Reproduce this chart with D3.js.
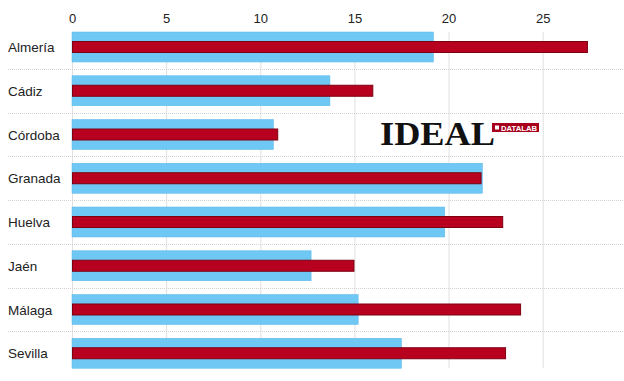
<!DOCTYPE html>
<html>
<head>
<meta charset="utf-8">
<script src="https://cdn.jsdelivr.net/npm/d3@7"></script>
<style>
  body { margin: 0; background: #fff; }
  text { font-family: "Liberation Sans", Arial, sans-serif; }
</style>
</head>
<body>
<div id="chart"></div>
<script>
const provincias = ['Almería', 'Cádiz', 'Córdoba', 'Granada', 'Huelva', 'Jaén', 'Málaga', 'Sevilla'];
const serieAzul = [19.2, 13.7, 10.7, 21.8, 19.8, 12.7, 15.2, 17.5];
const serieRoja = [27.35, 15.95, 10.9, 21.7, 22.85, 14.95, 23.8, 23.0];
const ticks = [0, 5, 10, 15, 20, 25];

const width = 624;
const height = 381;

const svg = d3.select('#chart')
  .append('svg')
  .attr('width', width)
  .attr('height', height);

const x = d3.scaleLinear().domain([0, 29]).range([72, 618]);
const y = d3.scalePoint().domain(provincias).range([47, 353.25]);
const step = y.step();

// vertical grid
svg.append('g')
  .selectAll('line')
  .data(ticks)
  .join('line')
  .attr('x1', (d) => x(d) + 0.5)
  .attr('x2', (d) => x(d) + 0.5)
  .attr('y1', 32)
  .attr('y2', 368)
  .attr('stroke', '#e0e0e0')
  .attr('stroke-width', 1);

// dotted separators between rows
svg.append('g')
  .selectAll('line')
  .data(provincias.slice(0, -1))
  .join('line')
  .attr('x1', 8)
  .attr('x2', width)
  .attr('y1', (d) => Math.round(y(d) + step / 2) + 0.5)
  .attr('y2', (d) => Math.round(y(d) + step / 2) + 0.5)
  .attr('stroke', '#d2d2d2')
  .attr('stroke-dasharray', '1,1');

// top axis
const xAxis = d3.axisTop(x).tickValues(ticks).tickSize(0).tickPadding(0);
const ax = svg.append('g')
  .attr('transform', 'translate(0, 23)')
  .call(xAxis);
ax.select('.domain').remove();
ax.selectAll('text')
  .attr('font-size', 13)
  .attr('fill', '#222')
  .attr('dy', 0);

// blue bars
svg.append('g')
  .selectAll('rect')
  .data(provincias)
  .join('rect')
  .attr('x', x(0))
  .attr('y', (d) => y(d) - 15)
  .attr('width', (d, i) => x(serieAzul[i]) - x(0))
  .attr('height', 30)
  .attr('fill', '#6fc8f4')
  .attr('stroke', '#5bb8ea')
  .attr('stroke-width', 0.5);

// red bars
svg.append('g')
  .selectAll('rect')
  .data(provincias)
  .join('rect')
  .attr('x', x(0) + 0.5)
  .attr('y', (d) => y(d) - 5.5)
  .attr('width', (d, i) => x(serieRoja[i]) - x(0))
  .attr('height', 11)
  .attr('fill', '#b8001f')
  .attr('stroke', '#7d0012')
  .attr('stroke-width', 1);

// category labels
svg.append('g')
  .selectAll('text')
  .data(provincias)
  .join('text')
  .attr('x', 8)
  .attr('y', (d) => y(d) + 5)
  .attr('font-size', 13.5)
  .attr('fill', '#222')
  .text((d) => d);

// IDEAL logo
svg.append('text')
  .attr('x', 380)
  .attr('y', 145)
  .style('font-family', '"Liberation Serif", "Times New Roman", serif')
  .attr('font-weight', 'bold')
  .attr('font-size', 33)
  .attr('textLength', 115)
  .attr('lengthAdjust', 'spacingAndGlyphs')
  .attr('fill', '#111')
  .text('IDEAL');

svg.append('rect')
  .attr('x', 492)
  .attr('y', 123)
  .attr('width', 47)
  .attr('height', 9)
  .attr('fill', '#a8001c');

svg.append('rect')
  .attr('x', 495)
  .attr('y', 125.5)
  .attr('width', 4)
  .attr('height', 4)
  .attr('fill', '#fff');

svg.append('text')
  .attr('x', 501)
  .attr('y', 130.5)
  .attr('font-size', 7.5)
  .attr('font-weight', 'bold')
  .attr('fill', '#fff')
  .attr('textLength', 36)
  .attr('lengthAdjust', 'spacingAndGlyphs')
  .text('DATALAB');
</script>
</body>
</html>
